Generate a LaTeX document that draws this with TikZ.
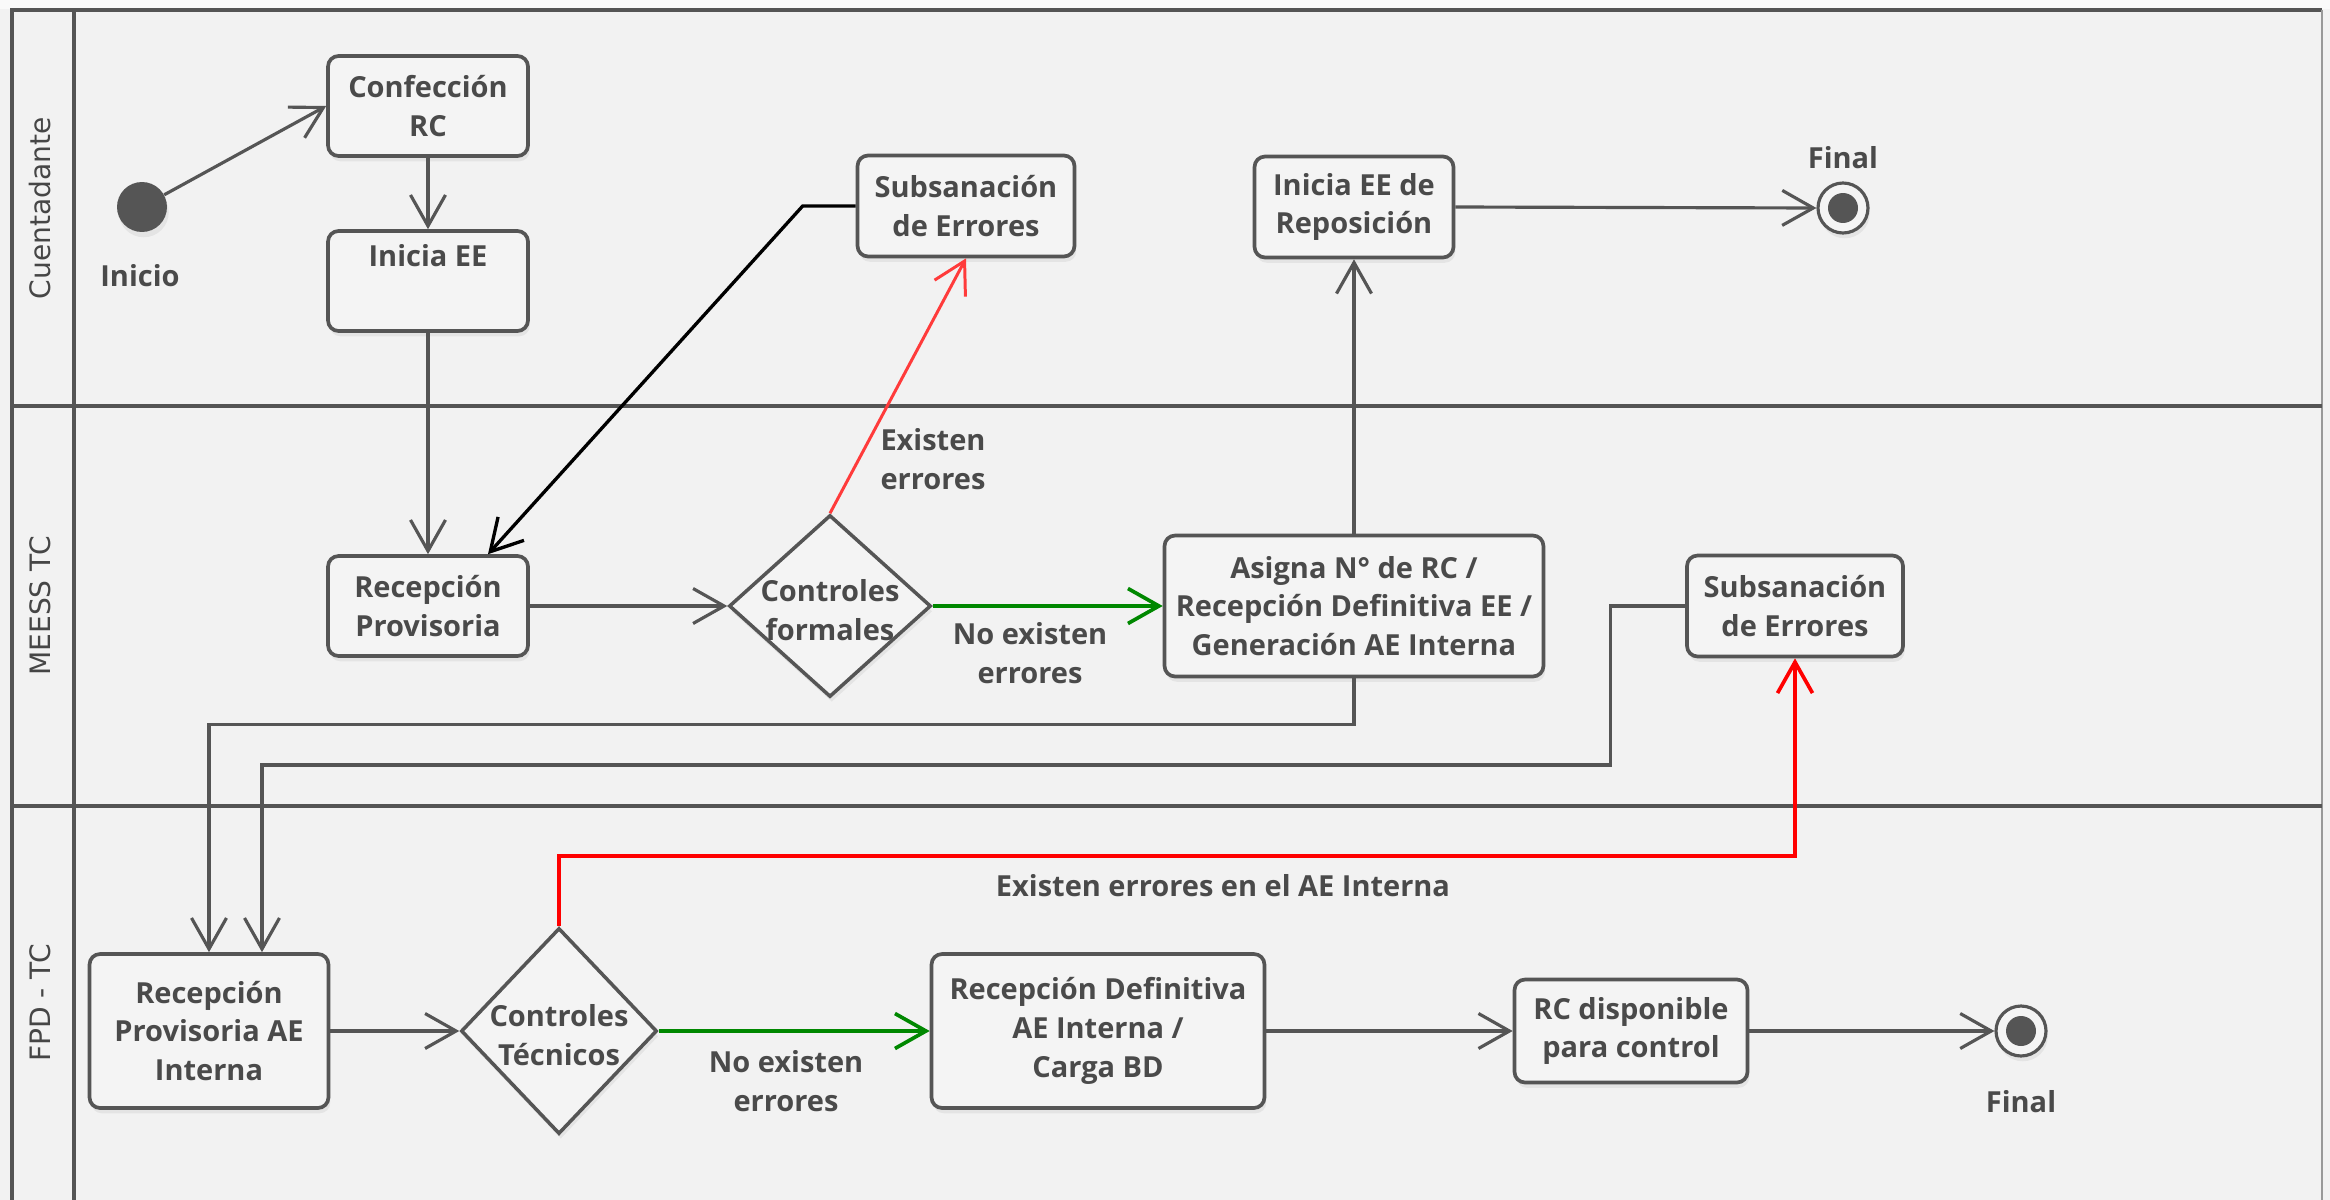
\documentclass[tikz,border=0pt]{standalone}
\usepackage{fontspec}
\setmainfont{Open Sans}
\newfontfamily\lanefont{DejaVu Sans}
\usetikzlibrary{shapes.geometric,arrows.meta,calc,shadows}
\definecolor{bg}{HTML}{F2F2F2}
\definecolor{boxfill}{HTML}{F4F4F4}
\definecolor{linecol}{HTML}{555555}
\definecolor{textcol}{HTML}{4A4A4A}
\definecolor{lanetext}{HTML}{464646}
\definecolor{redA}{HTML}{FF3B3B}
\definecolor{redB}{HTML}{FF0000}
\definecolor{greenA}{HTML}{008800}
\newcommand\myfont{\fontsize{16.5}{22}\selectfont\bfseries}
\begin{document}
\begin{tikzpicture}[x=0.02cm,y=-0.02cm,
  box/.style={draw=linecol, line width=2.1pt, rounded corners=6pt, fill=boxfill,
    align=center, inner sep=2pt, font=\myfont, text=textcol,
    drop shadow={opacity=0.12, shadow xshift=1pt, shadow yshift=-3pt}},
  dia/.style={diamond, draw=linecol, line width=2pt, fill=boxfill, inner sep=0pt,
    drop shadow={opacity=0.12, shadow xshift=1pt, shadow yshift=-3pt}},
  diatext/.style={align=center, font=\myfont, text=textcol, inner sep=0pt},
  lbl/.style={align=center, font=\myfont, text=textcol, inner sep=1pt},
  lane/.style={font=\lanefont\fontsize{16}{18}\selectfont, text=lanetext, rotate=90},
  startnode/.style={circle, fill=linecol, minimum size=1cm, inner sep=0pt,
    drop shadow={opacity=0.12, shadow xshift=1pt, shadow yshift=-3pt}},
  finalnode/.style={circle, draw=linecol, line width=1.8pt, fill=boxfill, minimum size=1cm, inner sep=0pt,
    path picture={\fill[linecol] (path picture bounding box.center) circle (0.3cm);},
    drop shadow={opacity=0.12, shadow xshift=1pt, shadow yshift=-3pt}},
  arr/.style={draw=linecol, line width=1.8pt, -{Straight Barb[length=0.62cm,width=0.7cm]}},
  blkarr/.style={draw=black, line width=1.9pt, -{Straight Barb[length=0.62cm,width=0.7cm]}},
  redarrA/.style={draw=redA, line width=1.7pt, -{Straight Barb[length=0.62cm,width=0.7cm]}},
  redarrB/.style={draw=redB, line width=2.1pt, -{Straight Barb[length=0.62cm,width=0.7cm]}},
  greenarr/.style={draw=greenA, line width=2.1pt, -{Straight Barb[length=0.62cm,width=0.7cm]}},
  lanerule/.style={draw=linecol, line width=2.2pt}
]
\useasboundingbox (0,0) rectangle (2330,1200);
\fill[bg] (0,0) rectangle (2330,1200);
\fill[white!60!bg] (0,0) rectangle (2330,9);

% swimlane frame
\draw[lanerule] (12,1200) -- (12,10) -- (2322,10);
\draw[draw=linecol!60, line width=1pt] (2322,10) -- (2322,1200);
\draw[lanerule] (74,10) -- (74,1200);
\draw[lanerule] (12,406) -- (2322,406);
\draw[lanerule] (12,806) -- (2322,806);

\node[lane] (laneA) at (40,208) {Cuentadante};
\node[lane] (laneB) at (40,606) {MEESS TC};
\node[lane] (laneC) at (40,1003) {FPD - TC};

% Cuentadante lane
\node[startnode] (start) at (142,207) {};
\node[lbl] (inicio) at (140,276) {Inicio};
\node[box, minimum width=4cm, minimum height=2cm] (conf) at (428,106) {Confección\\RC};
\node[box, minimum width=4cm, minimum height=2cm] (iniee) at (428,281) {Inicia EE\\\strut};
\node[box, minimum width=4.34cm, minimum height=2.02cm] (subtop) at (966,206) {Subsanación\\de Errores};
\node[box, minimum width=3.98cm, minimum height=2.02cm] (repos) at (1354,207) {Inicia EE de\\Reposición};
\node[finalnode] (final1) at (1843,208) {};
\node[lbl] (final1l) at (1843,158) {Final};

% MEESS TC lane
\node[box, minimum width=4cm, minimum height=2cm] (recprov) at (428,606) {Recepción\\Provisoria};
\node[dia, minimum width=4.04cm, minimum height=3.64cm] (cf) at (830,606) {};
\node[diatext] (cft) at (830,610) {Controles\\formales};
\node[box, minimum width=7.58cm, minimum height=2.82cm] (asigna) at (1354,606) {Asigna N° de RC /\\Recepción Definitiva EE /\\Generación AE Interna};
\node[box, minimum width=4.32cm, minimum height=2.02cm] (submid) at (1795,606) {Subsanación\\de Errores};
\node[lbl] (ex1) at (933,459) {Existen\\errores};
\node[lbl] (nex1) at (1030,653) {No existen\\errores};

% FPD - TC lane
\node[box, minimum width=4.78cm, minimum height=3.08cm] (recprovae) at (209,1031) {Recepción\\Provisoria AE\\Interna};
\node[dia, minimum width=3.92cm, minimum height=4.12cm] (ct) at (559,1031) {};
\node[diatext] (ctt) at (559,1035) {Controles\\Técnicos};
\node[box, minimum width=6.66cm, minimum height=3.08cm] (recdef) at (1098,1031) {Recepción Definitiva\\AE Interna /\\Carga BD};
\node[box, minimum width=4.66cm, minimum height=2.06cm] (rcdisp) at (1631,1031) {RC disponible\\para control};
\node[finalnode] (final2) at (2021,1031) {};
\node[lbl] (final2l) at (2021,1102) {Final};
\node[lbl] (ex2) at (1223,886) {Existen errores en el AE Interna};
\node[lbl] (nex2) at (786,1081) {No existen\\errores};

% connectors
\draw[arr] (start) -- (conf.west);
\draw[arr] (conf.south) -- (iniee.north);
\draw[arr] (iniee.south) -- (recprov.north);
\draw[blkarr] (subtop.west) -- ++(-53,0) -- ($(recprov.north)+(60,0)$);
\draw[redarrA] (cf.north) -- (subtop.south);
\draw[arr] (recprov.east) -- (cf.west);
\draw[greenarr] (cf.east) -- (asigna.west);
\draw[arr] (asigna.north) -- (asigna.north |- repos.south);
\draw[arr] (repos.east) -- (final1.west);
\draw[arr] (asigna.south) -- ++(0,46) -| (recprovae.north);
\draw[arr] (submid.west) -- ++(-75,0) -- ++(0,159) -| ($(recprovae.north)+(53,0)$);
\draw[redarrB] (ct.north) -- ++(0,-70) -| (submid.south);
\draw[arr] (recprovae.east) -- (ct.west);
\draw[greenarr] (ct.east) -- (recdef.west);
\draw[arr] (recdef.east) -- (rcdisp.west);
\draw[arr] (rcdisp.east) -- (final2.west);
\end{tikzpicture}
\end{document}
